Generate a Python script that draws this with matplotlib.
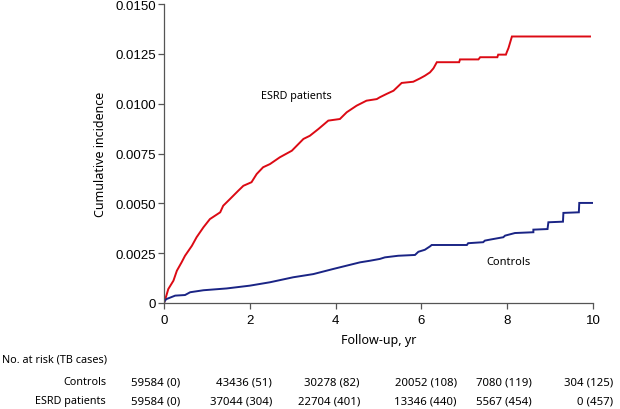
"""
plot.py -- cumulative incidence of TB, ESRD patients vs controls
Writes : out.png
"""

import matplotlib
matplotlib.use("Agg")
import matplotlib.pyplot as plt
from matplotlib.ticker import FixedLocator, FixedFormatter

# -------------------------------------------------------
# Data
# -------------------------------------------------------

esrd_t = [0, 0.02, 0.10, 0.22, 0.30, 0.41, 0.49, 0.65, 0.76, 0.92, 1.07, 1.31,
          1.38, 1.54, 1.73, 1.85, 2.04, 2.16, 2.31, 2.47, 2.70, 2.98, 3.25,
          3.40, 3.60, 3.83, 4.10, 4.26, 4.49, 4.72, 4.96, 5.03, 5.19, 5.35,
          5.54, 5.81, 5.97, 6.08, 6.20, 6.28, 6.36, 6.88, 6.90, 7.33, 7.37,
          7.77, 7.79, 7.97, 7.99, 8.03, 8.07, 8.11, 9.93]
esrd_ci = [0, 0.000115, 0.00070, 0.00112, 0.00162, 0.00204, 0.00237, 0.00287,
           0.00330, 0.00380, 0.00421, 0.00455, 0.00488, 0.00522, 0.00563,
           0.00588, 0.00606, 0.00647, 0.00681, 0.00697, 0.00731, 0.00764,
           0.00823, 0.00839, 0.00873, 0.00915, 0.00923, 0.00957, 0.00990,
           0.01015, 0.01023, 0.01032, 0.01049, 0.01065, 0.01104, 0.01110,
           0.01127, 0.01140, 0.01157, 0.01177, 0.01208, 0.01208, 0.01222,
           0.01222, 0.01233, 0.01233, 0.01246, 0.01246, 0.01258, 0.01279,
           0.01308, 0.01337, 0.01337]

ctrl_t = [0, 0.02, 0.06, 0.26, 0.49, 0.61, 0.92, 1.46, 2.00, 2.47, 3.01, 3.48,
          3.95, 4.57, 4.80, 5.03, 5.15, 5.46, 5.85, 5.93, 6.08, 6.20, 6.24,
          7.06, 7.09, 7.44, 7.48, 7.60, 7.91, 7.95, 8.18, 8.61, 8.61, 8.94,
          8.96, 9.30, 9.31, 9.67, 9.68, 10.0]
ctrl_ci = [0, 0.00012, 0.00020, 0.00037, 0.00040, 0.00054, 0.00064, 0.00073,
           0.00087, 0.00104, 0.00129, 0.00145, 0.00171, 0.00204, 0.00212,
           0.00221, 0.00229, 0.00237, 0.00241, 0.00257, 0.00267, 0.00284,
           0.00291, 0.00291, 0.00300, 0.00305, 0.00313, 0.00318, 0.00330,
           0.00338, 0.00351, 0.00355, 0.00368, 0.00371, 0.00405, 0.00408,
           0.00452, 0.00455, 0.00502, 0.00502]

x_ticks   = [0, 2, 4, 6, 8, 10]
y_ticks   = [0, 0.0025, 0.0050, 0.0075, 0.0100, 0.0125, 0.0150]
y_labels  = ["0", "0.0025", "0.0050", "0.0075", "0.0100", "0.0125", "0.0150"]

risk_groups = ["Controls", "ESRD patients"]
ctrl_risk   = ["59584 (0)", "43436 (51)", "30278 (82)", "20052 (108)",
               "7080 (119)", "304 (125)"]
esrd_risk   = ["59584 (0)", "37044 (304)", "22704 (401)", "13346 (440)",
               "5567 (454)", "0 (457)"]

# -------------------------------------------------------
# Style
# -------------------------------------------------------

RED   = "#dc0a14"
BLUE  = "#1a2485"
SPINE = "#555555"
TICK_FONT = ["Liberation Sans", "DejaVu Sans"]
TEXT_FONT = ["Noto Sans", "DejaVu Sans"]

W, H = 620, 410
fig = plt.figure(figsize=(W / 100, H / 100), dpi=100)
ax = fig.add_axes([164 / W, 1 - 304 / H, (593 - 164) / W, (304 - 5) / H])

ax.plot(esrd_t, esrd_ci, color=RED, lw=1.4, solid_joinstyle="miter")
ax.plot(ctrl_t, ctrl_ci, color=BLUE, lw=1.4, solid_joinstyle="miter")

ax.set_xlim(0, 10)
ax.set_ylim(0, 0.015)
ax.xaxis.set_major_locator(FixedLocator(x_ticks))
ax.yaxis.set_major_locator(FixedLocator(y_ticks))
ax.yaxis.set_major_formatter(FixedFormatter(y_labels))

for s in ["top", "right"]:
    ax.spines[s].set_visible(False)
for s in ["left", "bottom"]:
    ax.spines[s].set_color(SPINE)
    ax.spines[s].set_linewidth(0.9)

ax.tick_params(direction="out", length=4, width=0.9, color=SPINE,
               labelsize=9.5, pad=2)
for lab in ax.get_xticklabels() + ax.get_yticklabels():
    lab.set_family(TICK_FONT)
ax.tick_params(axis="x", pad=4)

ax.set_ylabel("Cumulative incidence", family=TEXT_FONT, fontsize=9, labelpad=6)
ax.set_xlabel("Follow-up, yr", family=TEXT_FONT, fontsize=9, labelpad=5)

ax.text(3.09, 0.0104, "ESRD patients", family=TEXT_FONT, fontsize=7.8,
        ha="center", va="center")
ax.text(8.02, 0.0021, "Controls", family=TEXT_FONT, fontsize=8,
        ha="center", va="center")

# -------------------------------------------------------
# Number at risk table
# -------------------------------------------------------

col_right = [180, 272, 360, 457, 532, 613]   # column right edges, px
row_y     = [383, 402]                       # row centres, px

fig.text(2 / W, 1 - 360 / H, "No. at risk (TB cases)", family=TEXT_FONT,
         fontsize=7.8, ha="left", va="center")
for name, vals, yy in zip(risk_groups, [ctrl_risk, esrd_risk], row_y):
    fig.text(106 / W, 1 - yy / H, name, family=TEXT_FONT, fontsize=7.8,
             ha="right", va="center")
    for v, xx in zip(vals, col_right):
        fig.text(xx / W, 1 - yy / H, v, family=TEXT_FONT, fontsize=8.2,
                 ha="right", va="center")

fig.savefig("out.png", dpi=100)
plt.close(fig)
